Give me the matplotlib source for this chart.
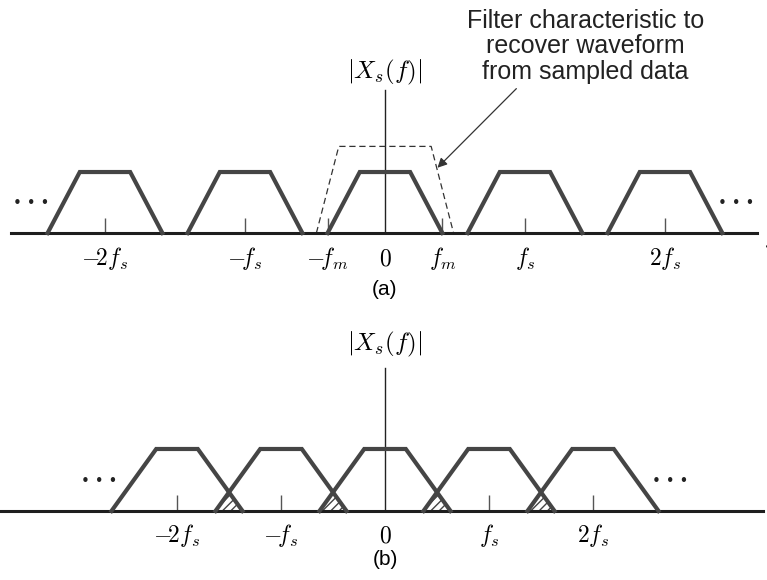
import numpy as np
import matplotlib
matplotlib.use('Agg')
import matplotlib.pyplot as plt

plt.rcParams['mathtext.fontset'] = 'cm'
plt.rcParams['hatch.linewidth'] = 1.0

# spectral replicas sit at multiples of fs (frequency axis in units of fs)
centers = [-2, -1, 0, 1, 2]

# (a) fs > 2 fm : replicas are separated
fm_a = 0.41        # half width of the base
flat_a = 0.18      # half width of the flat top
filt_base = 0.49   # recovery filter, base half width
filt_top = 0.33    # recovery filter, top half width
filt_gain = 1.42
ticks_a = [-2, -1, -0.41, 0.41, 1, 2]
label_pos_a = [-2, -1, -0.41, 0, 0.41, 1, 2]
labels_a = [r'$-\!2f_s$', r'$-\!f_s$', r'$-\!f_m$', r'$0$', r'$f_m$',
            r'$f_s$', r'$2f_s$']

# (b) fs < 2 fm : replicas overlap (aliasing)
fm_b = 0.63
flat_b = 0.20
ticks_b = [-2, -1, 1, 2]
label_pos_b = [-2, -1, 0, 1, 2]
labels_b = [r'$-\!2f_s$', r'$-\!f_s$', r'$0$', r'$f_s$', r'$2f_s$']

LINE = '#454545'
SERIF = dict(fontsize=17)


def trapezoid(c, half_base, half_top, h=1.0):
    x = [c - half_base, c - half_top, c + half_top, c + half_base]
    y = [0, h, h, 0]
    return np.array(x), np.array(y)


def dots(ax, x, y):
    ax.text(x, y, '\u2022 \u2022 \u2022', ha='center', va='center',
            fontsize=11, color='#222222')


fig = plt.figure(figsize=(7.67, 5.80), dpi=100)

# ---------------- (a) ----------------
ax = fig.add_axes([0, 1 - 300 / 580, 1, 300 / 580])
ax.set_xlim(-2.75, 2.729)
ax.set_ylim(-1.098, 3.82)
ax.axis('off')

ax.plot([-2.67, 2.66], [0, 0], color='#1e1e1e', lw=2.2, zorder=3)
ax.plot([0, 0], [0, 2.34], color='#222222', lw=1.0)
ax.vlines(ticks_a, 0, 0.25, color='#555555', lw=1.0)

for c in centers:
    x, y = trapezoid(c, fm_a, flat_a)
    ax.plot(x, y, color=LINE, lw=3.0, solid_joinstyle='miter', zorder=4)

fx, fy = trapezoid(0, filt_base, filt_top, filt_gain)
ax.plot(fx, fy, color='#333333', lw=0.9, dashes=(5, 3))

for p, s in zip(label_pos_a, labels_a):
    ax.text(p, -0.41, s, ha='center', va='center', **SERIF)

ax.text(0, 2.64, r'$|X_s(f)|$', ha='center', va='center', fontsize=18)
ax.text(2.705, -0.08, r'$f$', ha='left', va='center', fontsize=16)
ax.text(0, -0.93, '(a)', ha='center', va='center', fontsize=15,
        family='Liberation Sans')

ax.annotate('Filter characteristic to\nrecover waveform\nfrom sampled data',
            xy=(0.375, 1.07), xytext=(1.43, 3.06), ha='center', va='center',
            fontsize=18, family='Liberation Sans', linespacing=1.08,
            color='#222222',
            arrowprops=dict(arrowstyle='-|>', color='#333333', lw=0.9,
                            mutation_scale=14, shrinkA=2, shrinkB=0,
                            relpos=(0.23, 0.0)))

dots(ax, -2.53, 0.49)
dots(ax, 2.51, 0.49)

# ---------------- (b) ----------------
ax = fig.add_axes([0, 0, 1, 280 / 580])
ax.set_xlim(-3.702, 3.673)
ax.set_ylim(-1.113, 3.403)
ax.axis('off')

ax.plot([-3.70, 3.63], [0, 0], color='#1e1e1e', lw=2.2, zorder=3)
ax.plot([0, 0], [0, 2.31], color='#222222', lw=1.0)
ax.vlines(ticks_b, 0, 0.26, color='#555555', lw=1.0)

for c in centers:
    x, y = trapezoid(c, fm_b, flat_b)
    ax.plot(x, y, color=LINE, lw=3.0, solid_joinstyle='miter', zorder=4)

# overlap between neighbouring replicas is hatched
for c0, c1 in zip(centers[:-1], centers[1:]):
    f = np.linspace(c1 - fm_b, c0 + fm_b, 200)
    x0, y0 = trapezoid(c0, fm_b, flat_b)
    x1, y1 = trapezoid(c1, fm_b, flat_b)
    lo = np.minimum(np.interp(f, x0, y0), np.interp(f, x1, y1))
    ax.fill_between(f, 0, lo, facecolor='none', edgecolor='#444444',
                    hatch='////', lw=0, zorder=2)

for p, s in zip(label_pos_b, labels_b):
    ax.text(p, -0.39, s, ha='center', va='center', **SERIF)

ax.text(0, 2.68, r'$|X_s(f)|$', ha='center', va='center', fontsize=18)
ax.text(3.65, -0.08, r'$f$', ha='left', va='center', fontsize=16)
ax.text(0, -0.79, '(b)', ha='center', va='center', fontsize=15,
        family='Liberation Sans')

dots(ax, -2.75, 0.47)
dots(ax, 2.74, 0.47)

fig.savefig('out.png', dpi=100, facecolor='white')
